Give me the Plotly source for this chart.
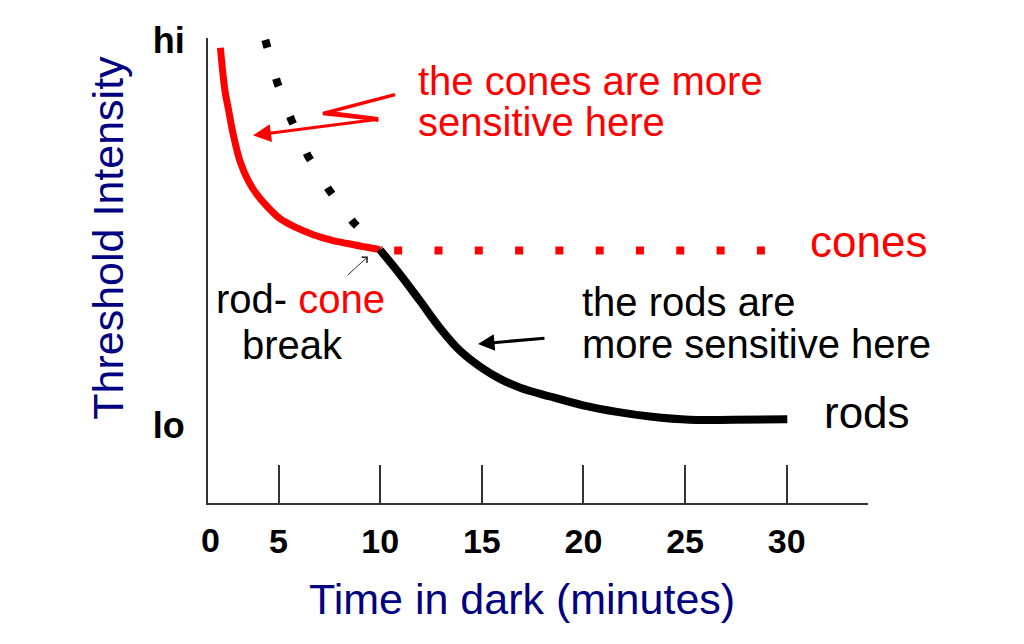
import plotly.graph_objects as go

# ---------------- data ----------------
# cone branch (red solid)
cone_x = [2.14, 2.26, 2.38, 2.53, 2.78, 3.12, 3.52, 3.96, 4.50, 5.09, 5.88, 6.71, 7.55, 8.38, 9.22, 10.0]
cone_y = [97.9, 92.5, 88.2, 84.8, 79.1, 73.3, 69.2, 66.2, 63.5, 61.1, 59.2, 57.7, 56.6, 55.8, 55.1, 54.5]
# cone plateau continued (red dotted)
cone_dot_x = [10.69, 28.93]
cone_dot_y = [54.3, 54.3]
# rod branch (black solid)
rod_x = [10.0, 10.99, 11.97, 12.95, 13.94, 14.92, 15.90, 16.89, 18.36, 19.98, 21.65, 23.28, 25.24, 27.36, 30.03]
rod_y = [54.4, 49.1, 43.4, 37.6, 32.7, 29.3, 26.7, 24.8, 22.9, 21.0, 19.6, 18.6, 17.9, 17.9, 18.0]
# rod branch extrapolated (black dotted)
rod_dot_x = [4.35, 4.93, 5.63, 6.45, 7.50, 8.69, 10.0]
rod_dot_y = [99.6, 90.5, 82.4, 74.6, 67.2, 60.3, 54.5]

x_tick_vals = [5, 10, 15, 20, 25, 30]
x_tick_text = ["5", "10", "15", "20", "25", "30"]
x_zero_val = 1.65
y_tick_vals = [16.7, 99.4]
y_tick_text = ["lo", "hi"]

FONT = "Liberation Sans, Arial, sans-serif"
RED = "#ff0000"
NAVY = "#000080"

# page offset (body margin) and plot area in screen pixels
OFF = 8
W, H = 1024 - 2 * OFF, 644 - 2 * OFF
L, R, T, B = 208, 868, 35, 503


def P(px, py):
    return (px - L) / (R - L), (B - py) / (B - T)


fig = go.Figure()
fig.add_trace(go.Scatter(x=cone_x, y=cone_y, mode="lines", line=dict(color=RED, width=7, shape="spline"),
                         hoverinfo="skip", showlegend=False))
fig.add_trace(go.Scatter(x=cone_dot_x, y=cone_dot_y, mode="lines",
                         line=dict(color=RED, width=8, dash="8px,32.3px"), hoverinfo="skip", showlegend=False))
fig.add_trace(go.Scatter(x=rod_dot_x, y=rod_dot_y, mode="lines",
                         line=dict(color="black", width=8, dash="8px,32.3px"), hoverinfo="skip", showlegend=False))
fig.add_trace(go.Scatter(x=rod_x, y=rod_y, mode="lines", line=dict(color="black", width=8, shape="spline"),
                         hoverinfo="skip", showlegend=False))

annotations = []


def text(px_left, baseline, s, size, color, anchor="left", angle=0):
    x, y = P(px_left, baseline - 0.3465 * size)
    annotations.append(dict(x=x, y=y, xref="paper", yref="paper", text=s, showarrow=False,
                            xanchor=anchor, yanchor="middle", textangle=angle,
                            font=dict(family=FONT, size=size, color=color)))


text(416, 91.7, "the cones are more", 40, RED)
text(416, 133, "sensitive here", 40, RED)
text(808, 255, "cones", 44, RED)
text(580, 315, "the rods are", 40, "black")
text(580, 356.7, "more sensitive here", 40, "black")
text(822, 426.7, "rods", 44, "black")
text(214, 311.7, "rod- <span style='color:#ff0000'>cone</span>", 40, "black")
text(240, 358, "break", 40, "black")

# axis titles
tx, ty = P(521.5, 600)
annotations.append(dict(x=tx, y=ty, xref="paper", yref="paper", text="Time in dark (minutes)", showarrow=False,
                        xanchor="center", yanchor="middle", font=dict(family=FONT, size=43, color=NAVY)))
tx, ty = P(108, 236)
annotations.append(dict(x=tx, y=ty, xref="paper", yref="paper", text="Threshold Intensity", showarrow=False,
                        xanchor="center", yanchor="middle", textangle=-90,
                        font=dict(family=FONT, size=43, color=NAVY)))

# "0" label at the origin
zx, zy = P(0, 540)
annotations.append(dict(x=x_zero_val, y=zy, xref="x", yref="paper", text="0", showarrow=False,
                        xanchor="center", yanchor="middle",
                        font=dict(family=FONT, size=34, color="black", weight="bold")))

# arrows
ax_, ay_ = P(253, 133)
annotations.append(dict(x=ax_, y=ay_, xref="paper", yref="paper", text="", showarrow=True,
                        ax=125, ay=-16, arrowhead=2, arrowsize=1.2, arrowwidth=3, arrowcolor=RED,
                        standoff=0, startstandoff=0))
ax_, ay_ = P(478, 343)
annotations.append(dict(x=ax_, y=ay_, xref="paper", yref="paper", text="", showarrow=True,
                        ax=68, ay=-6, arrowhead=2, arrowsize=1.1, arrowwidth=3, arrowcolor="black",
                        standoff=0, startstandoff=0))
ax_, ay_ = P(368, 255)
annotations.append(dict(x=ax_, y=ay_, xref="paper", yref="paper", text="", showarrow=True,
                        ax=-22, ay=20, arrowhead=4, arrowsize=1.5, arrowwidth=1, arrowcolor="#333",
                        standoff=0, startstandoff=0))

# lightning-bolt part of the red arrow
b1 = P(395, 92)
b2 = P(323, 111)
b3 = P(378, 117)
w1 = P(330, 109)
w2 = P(378, 115)
w3 = P(378, 119)
shapes = [
    dict(type="path", xref="paper", yref="paper",
         path=f"M {b1[0]},{b1[1]} L {b2[0]},{b2[1]} L {b3[0]},{b3[1]}",
         line=dict(color=RED, width=3.5)),
    dict(type="path", xref="paper", yref="paper",
         path=f"M {w1[0]},{w1[1]} L {w2[0]},{w2[1]} L {w3[0]},{w3[1]} Z",
         line=dict(color=RED, width=1), fillcolor=RED),
]

fig.update_layout(
    width=W, height=H, autosize=False,
    margin=dict(l=L - OFF, r=W - (R - OFF), t=T - OFF, b=H - (B - OFF), pad=0),
    paper_bgcolor="white", plot_bgcolor="white",
    showlegend=False,
    annotations=annotations, shapes=shapes,
    xaxis=dict(range=[1.53, 34.0], tickvals=x_tick_vals, ticktext=x_tick_text,
               ticks="inside", ticklen=38, tickwidth=1.5, tickcolor="#333",
               showline=True, linecolor="#333", linewidth=2, showgrid=False, zeroline=False,
               tickfont=dict(family=FONT, size=34, color="black", weight="bold"),
               ticklabelstandoff=7, fixedrange=True),
    yaxis=dict(range=[0, 100], tickvals=y_tick_vals, ticktext=y_tick_text, ticks="",
               showline=True, linecolor="#333", linewidth=2, showgrid=False, zeroline=False,
               tickfont=dict(family=FONT, size=36, color="black", weight="bold"),
               ticklabelstandoff=14, fixedrange=True),
)

fig.write_html("out.html", config={"displayModeBar": False})
